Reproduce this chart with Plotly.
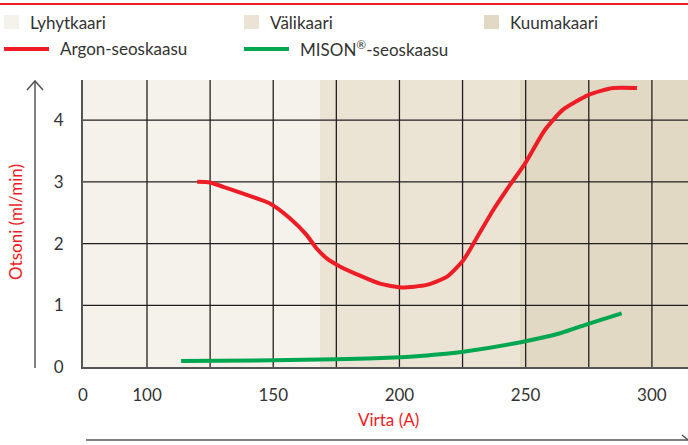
import plotly.graph_objects as go

# ---- data ----
current_argon = [119.9, 124.9, 130.2, 139.5, 148.7, 156.6, 163.2, 167.2, 171.2, 176.4,
                 184.4, 192.3, 200.9, 210.8, 218.7, 225.3, 230.6, 237.1, 243.8, 249.8,
                 257.6, 264.8, 275.0, 284.6, 294.1]
ozone_argon = [3.00, 2.99, 2.92, 2.79, 2.65, 2.41, 2.14, 1.92, 1.76, 1.63,
               1.48, 1.35, 1.29, 1.33, 1.46, 1.73, 2.09, 2.54, 2.95, 3.30,
               3.84, 4.17, 4.41, 4.52, 4.52]

current_mison = [113.5, 150.0, 175.1, 200.7, 208.1, 225.3, 249.0, 263.6, 275.4, 288.0]
ozone_mison = [0.097, 0.109, 0.125, 0.157, 0.178, 0.248, 0.41, 0.546, 0.708, 0.87]

region_names = ["Lyhytkaari", "Välikaari", "Kuumakaari"]
region_edges = [74.65, 168.5, 247.7, 314.3]
region_colors = ["#f5f2eb", "#ebe4d5", "#e2d9c5"]

x_tick_vals = [74.65, 100, 150, 200, 250, 300]
x_tick_text = ["0", "100", "150", "200", "250", "300"]
x_grid = [100, 125, 150, 175, 200, 225, 250, 275, 300]
y_tick_vals = [0, 1, 2, 3, 4]
y_grid = [1, 2, 3, 4]

series_names = ["Argon-seoskaasu", "MISON<sup>®</sup>-seoskaasu"]
series_colors = ["#ee1c25", "#00a650"]

# ---- layout geometry ----
W, H = 688, 445
L, R, T, B = 83, 0, 80, 445 - 367
PW, PH = W - L - R, H - T - B


def px(x):
    return (x - L) / PW


def py(y):
    return (H - B - y) / PH


FONT = "Lato"
TXT = "#333333"
GRID = "#231f20"
AX = "#555555"

fig = go.Figure()
fig.add_trace(go.Scatter(x=current_argon, y=ozone_argon, mode="lines", name="Argon-seoskaasu",
                         line=dict(color=series_colors[0], width=4, shape="spline", smoothing=0.6),
                         showlegend=False))
fig.add_trace(go.Scatter(x=current_mison, y=ozone_mison, mode="lines", name="MISON®-seoskaasu",
                         line=dict(color=series_colors[1], width=4, shape="spline", smoothing=0.6),
                         showlegend=False))

shapes = []
for i in range(len(region_names)):
    shapes.append(dict(type="rect", xref="x", yref="paper", x0=region_edges[i], x1=region_edges[i + 1],
                       y0=0, y1=1, fillcolor=region_colors[i], line=dict(width=0), layer="below"))
for gx in x_grid:
    shapes.append(dict(type="line", xref="x", yref="paper", x0=gx, x1=gx, y0=0, y1=1,
                       line=dict(color=GRID, width=1.3), layer="below"))
for gy in y_grid:
    shapes.append(dict(type="line", xref="paper", yref="y", x0=0, x1=1, y0=gy, y1=gy,
                       line=dict(color=GRID, width=1.3), layer="below"))

# top red rule
shapes.append(dict(type="line", xref="paper", yref="paper", x0=px(0), x1=px(W), y0=py(4), y1=py(4),
                   line=dict(color="#ee1c25", width=2)))
# y arrow
shapes.append(dict(type="line", xref="paper", yref="paper", x0=px(35), x1=px(35), y0=py(368), y1=py(81),
                   line=dict(color=AX, width=1.5)))
shapes.append(dict(type="path", xref="paper", yref="paper",
                   path=f"M {px(27)} {py(90)} L {px(35)} {py(81)} L {px(43)} {py(90)}",
                   line=dict(color=AX, width=1.5)))
# x arrow
shapes.append(dict(type="line", xref="paper", yref="paper", x0=px(86), x1=px(688), y0=py(440), y1=py(440),
                   line=dict(color=AX, width=1.5)))
shapes.append(dict(type="line", xref="paper", yref="paper", x0=px(682), x1=px(688), y0=py(435), y1=py(440),
                   line=dict(color=AX, width=1.5)))

annotations = []
# legend: region squares
sq_x = [4, 244, 484]
for i, name in enumerate(region_names):
    shapes.append(dict(type="rect", xref="paper", yref="paper", x0=px(sq_x[i]), x1=px(sq_x[i] + 15),
                       y0=py(29), y1=py(15), fillcolor=region_colors[i], line=dict(width=0)))
    annotations.append(dict(x=px(sq_x[i] + 24), y=py(22), xref="paper", yref="paper", text=name,
                            showarrow=False, xanchor="left", yanchor="middle",
                            font=dict(family=FONT, size=17, color=TXT)))
ln_x = [4, 244]
for i, name in enumerate(series_names):
    shapes.append(dict(type="line", xref="paper", yref="paper", x0=px(ln_x[i]), x1=px(ln_x[i] + 45),
                       y0=py(49), y1=py(49), line=dict(color=series_colors[i], width=4)))
    annotations.append(dict(x=px(ln_x[i] + 54), y=py(48), xref="paper", yref="paper", text=name,
                            showarrow=False, xanchor="left", yanchor="middle",
                            font=dict(family=FONT, size=17, color=TXT)))

annotations.append(dict(x=px(15), y=py(222), xref="paper", yref="paper", text="Otsoni (ml/min)",
                        showarrow=False, textangle=-90, xanchor="center", yanchor="middle",
                        font=dict(family=FONT, size=17, color="#ee1c25")))
annotations.append(dict(x=px(388), y=py(419), xref="paper", yref="paper", text="Virta (A)",
                        showarrow=False, xanchor="center", yanchor="middle",
                        font=dict(family=FONT, size=17, color="#ee1c25")))

fig.update_layout(
    width=W, height=H, margin=dict(l=L, r=R, t=T, b=B),
    paper_bgcolor="white", plot_bgcolor="white",
    shapes=shapes, annotations=annotations, showlegend=False,
    xaxis=dict(range=[region_edges[0], region_edges[-1]], tickmode="array", tickvals=x_tick_vals,
               ticktext=x_tick_text, showgrid=False, zeroline=False, showline=True, linecolor=AX,
               linewidth=2, ticks="", ticklabelstandoff=12, tickfont=dict(family=FONT, size=17, color=TXT)),
    yaxis=dict(range=[0, 4.65], tickmode="array", tickvals=y_tick_vals, showgrid=False, zeroline=False,
               showline=True, linecolor=AX, linewidth=2, ticks="", ticklabelstandoff=14,
               tickfont=dict(family=FONT, size=17, color=TXT)),
)

fig.write_html("out.html", config={"displayModeBar": False},
               post_script="document.body.style.margin='0';document.body.style.overflow='hidden';")
